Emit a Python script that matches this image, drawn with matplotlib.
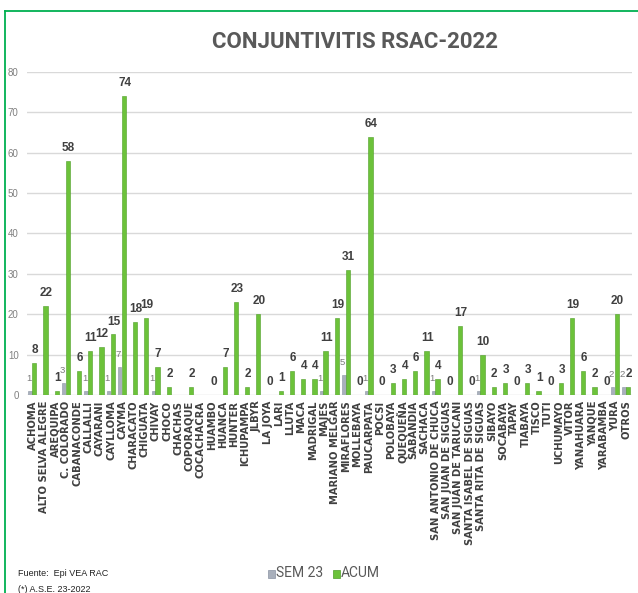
import numpy as np
import matplotlib
matplotlib.use("Agg")
import matplotlib.pyplot as plt
from matplotlib.lines import Line2D
from matplotlib.patches import Rectangle

nan = np.nan
categories = ["ACHOMA", "ALTO SELVA ALEGRE", "AREQUIPA", "C. COLORADO", "CABANACONDE",
              "CALLALLI", "CAYARANI", "CAYLLOMA", "CAYMA", "CHARACATO", "CHIGUATA",
              "CHIVAY", "CHOCO", "CHACHAS", "COPORAQUE", "COCACHACRA", "HUAMBO",
              "HUANCA", "HUNTER", "ICHUPAMPA", "JLBYR", "LA JOYA", "LARI", "LLUTA",
              "MACA", "MADRIGAL", "MAJES", "MARIANO MELGAR", "MIRAFLORES", "MOLLEBAYA",
              "PAUCARPATA", "POCSI", "POLOBAYA", "QUEQUEÑA", "SABANDIA", "SACHACA",
              "SAN ANTONIO DE CHUCA", "SAN JUAN DE SIGUAS", "SAN JUAN DE TARUCANI",
              "SANTA ISABEL DE SIGUAS", "SANTA RITA DE SIGUAS", "SIBAYO", "SOCABAYA",
              "TAPAY", "TIABAYA", "TISCO", "TUTI", "UCHUMAYO", "VITOR", "YANAHUARA",
              "YANQUE", "YARABAMBA", "YURA", "OTROS"]

sem23 = [1, nan, nan, 3, nan, 1, nan, 1, 7, nan, nan, 1, nan, nan, nan, nan, nan,
         nan, nan, nan, nan, nan, nan, nan, nan, nan, 1, nan, 5, nan, 1, nan, nan,
         nan, nan, nan, 1, nan, nan, nan, 1, nan, nan, nan, nan, nan, nan, nan, nan,
         nan, nan, nan, 2, 2]

acum = [8, 22, 1, 58, 6, 11, 12, 15, 74, 18, 19, 7, 2, nan, 2, nan, 0,
        7, 23, 2, 20, 0, 1, 6, 4, 4, 11, 19, 31, 0, 64, 0, 3, 4, 6, 11,
        4, 0, 17, 0, 10, 2, 3, 0, 3, 1, 0, 3, 19, 6, 2, 0, 20, 2]

W, H = 638, 593
fig = plt.figure(figsize=(W / 100, H / 100), dpi=100)
fig.patch.set_facecolor("white")

ax = fig.add_axes([27 / W, 1 - 395 / H, (632 - 27) / W, (395 - 72) / H])
x = np.arange(len(categories))
gray_c = "#a9b0bc"
green_c = "#6cc23a"

sem_arr = np.array(sem23, dtype=float)
acum_arr = np.array(acum, dtype=float)

ax.bar(x - 0.22, np.nan_to_num(sem_arr), width=0.3, color=gray_c, edgecolor="#8a93a3",
       linewidth=0.4, zorder=3)
ax.bar(x + 0.15, np.nan_to_num(acum_arr), width=0.38, color=green_c, edgecolor="#4f9e28",
       linewidth=0.4, zorder=3)

for xi, v in zip(x, sem_arr):
    if not np.isnan(v):
        ax.annotate(f"{int(v)}", (xi - 0.22, v), xytext=(-1, 9), textcoords="offset points",
                    ha="center", va="center", fontsize=6.8, color="#7a7a7a",
                    family=["Liberation Sans"], zorder=4)
for xi, v in zip(x, acum_arr):
    if not np.isnan(v):
        ax.annotate(f"{int(v)}", (xi + 0.15, v), xytext=(0.5, 9.3), textcoords="offset points",
                    ha="center", va="center", fontsize=8.5, color="#404040",
                    fontweight="bold", family=["Liberation Sans"], zorder=4)

ax.set_xlim(-0.5, len(categories) - 0.5)
ax.set_ylim(0, 80)
ax.set_yticks(np.arange(0, 81, 10))
ax.yaxis.grid(True, color="#d9d9d9", linewidth=1.0, zorder=0)
ax.set_axisbelow(True)
for s in ax.spines.values():
    s.set_visible(False)
ax.tick_params(axis="y", length=0, labelsize=7, labelcolor="#808080", pad=6)
ax.tick_params(axis="x", length=0, pad=4)
ax.set_xticks(x)
ax.set_xticklabels(categories, rotation=90, fontsize=7.2, fontweight="bold",
                   color="#404040", family=["DejaVu Sans"])
for lbl in ax.get_yticklabels():
    lbl.set_family(["Liberation Sans"])

fig.text(355 / W, 1 - 42 / H, "CONJUNTIVITIS RSAC-2022", ha="center", va="center",
         fontsize=16, fontweight="bold", color="#595959",
         family=["Roboto", "DejaVu Sans"])

# legend
fig.patches.append(Rectangle((268 / W, 1 - 578 / H), 7 / W, 8 / H, transform=fig.transFigure,
                             facecolor=gray_c, edgecolor="#8a93a3", linewidth=0.5))
fig.text(276 / W, 1 - 573 / H, "SEM 23", ha="left", va="center", fontsize=10,
         color="#595959", family=["Roboto", "DejaVu Sans"])
fig.patches.append(Rectangle((333 / W, 1 - 578 / H), 7 / W, 8 / H, transform=fig.transFigure,
                             facecolor=green_c, edgecolor="#4f9e28", linewidth=0.5))
fig.text(341 / W, 1 - 573 / H, "ACUM", ha="left", va="center", fontsize=10,
         color="#595959", family=["Roboto", "DejaVu Sans"])

fig.text(18 / W, 1 - 574 / H, "Fuente:  Epi VEA RAC", ha="left", va="center", fontsize=6.5,
         color="#222222", family=["Liberation Sans"])
fig.text(18 / W, 1 - 590 / H, "(*) A.S.E. 23-2022", ha="left", va="center", fontsize=6.5,
         color="#222222", family=["Liberation Sans"])

# frame
fig.lines.append(Line2D([5 / W, 1], [1 - 11 / H, 1 - 11 / H], transform=fig.transFigure,
                        color="#00b050", linewidth=1.3))
fig.lines.append(Line2D([5 / W, 5 / W], [0, 1 - 11 / H], transform=fig.transFigure,
                        color="#00b050", linewidth=1.3))

fig.savefig("out.png", dpi=100, facecolor="white")
